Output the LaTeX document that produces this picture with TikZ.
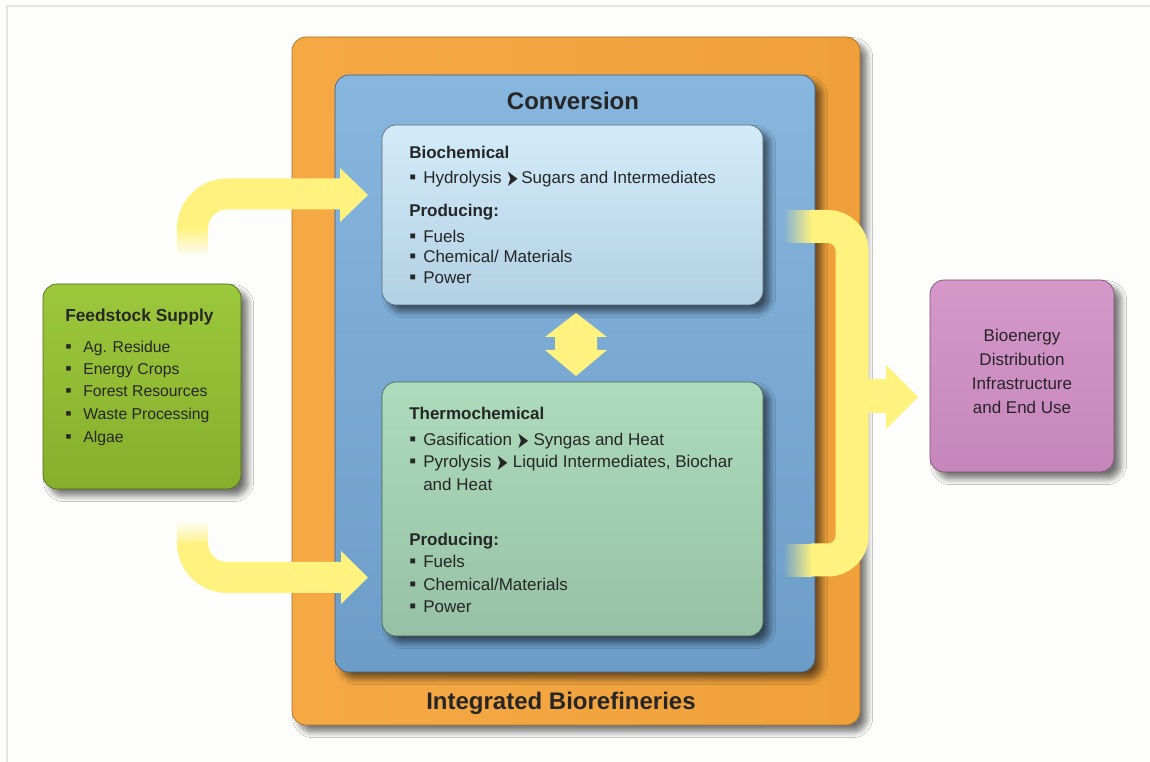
\documentclass[tikz,border=0pt]{standalone}
\usepackage{fontspec}
\setmainfont{Liberation Sans}
\newfontfamily\symfont{DejaVu Sans}
\usetikzlibrary{shadows.blur,fadings}

\definecolor{pagebg}{HTML}{FDFDFB}
\definecolor{framegray}{HTML}{E4E4E2}
\definecolor{orangeA}{HTML}{F5A944}
\definecolor{orangeB}{HTML}{EFA03B}
\definecolor{blueA}{HTML}{87B6DF}
\definecolor{blueB}{HTML}{6C9DC8}
\definecolor{bioA}{HTML}{D3EBF8}
\definecolor{bioB}{HTML}{B2D1E4}
\definecolor{thermoA}{HTML}{AEDBBC}
\definecolor{thermoB}{HTML}{96C1A5}
\definecolor{feedA}{HTML}{9CC83C}
\definecolor{feedB}{HTML}{86AF2B}
\definecolor{pinkA}{HTML}{D598C9}
\definecolor{pinkB}{HTML}{C686BB}
\definecolor{flow}{HTML}{FFF27E}
\definecolor{ink}{HTML}{262626}

% bullet with fixed indent, and the small pointer between process and product
\newcommand\bul[1]{\makebox[#1][l]{\raisebox{0.05ex}{\scalebox{1.15}{▪}}}}
\newcommand\pointer{{\symfont\raisebox{-0.25ex}{\scalebox{0.85}[1.35]{➤}}}}

\tikzset{
  panel/.style={rounded corners=10.5pt, inner sep=0pt, outer sep=0pt, line width=0.5pt},
  dropshadow/.style={blur shadow={shadow xshift=5pt, shadow yshift=-5pt,
      shadow blur radius=4.5pt, shadow blur steps=12, shadow opacity=55}},
  txt/.style={anchor=base west, inner sep=0pt, text=ink, font=\fontsize{12.75}{15}\selectfont},
  hd/.style={txt, font=\fontsize{12.75}{15}\selectfont\bfseries},
  small/.style={txt, font=\fontsize{11.8}{14}\selectfont},
  title/.style={anchor=base, inner sep=0pt, text=ink, font=\fontsize{18}{21}\selectfont\bfseries},
  flowband/.style={draw=flow, line width=23.25pt},
}

\begin{document}
\begin{tikzpicture}[x=0.75pt, y=-0.75pt]
% canvas and frame
\fill[pagebg] (0,0) rectangle (1150,762);
\useasboundingbox (0,0) rectangle (1150,762);
\draw[framegray, line width=1.5pt] (7,763) -- (7,6) -- (1151,6);

% integrated biorefinery and conversion containers
\node[panel, dropshadow, draw=orangeB!70!black, left color=orangeA, right color=orangeB,
      minimum width=426pt, minimum height=516pt] (refinery) at (576,381) {};
\node[panel, dropshadow, draw=blueB!60!black, top color=blueA, bottom color=blueB,
      minimum width=360pt, minimum height=447.75pt] (conversion) at (575,373.5) {};

% conversion routes
\node[panel, dropshadow, draw=bioB!50!black, top color=bioA, bottom color=bioB,
      minimum width=285.75pt, minimum height=135pt] (bio) at (572.5,215) {};
\node[panel, dropshadow, draw=thermoB!50!black, top color=thermoA, bottom color=thermoB,
      minimum width=285.75pt, minimum height=190.5pt] (thermo) at (572.5,509) {};

% supply and end use
\node[panel, dropshadow, draw=feedB!60!black, top color=feedA, bottom color=feedB,
      minimum width=148.5pt, minimum height=153.75pt] (feed) at (142,386.5) {};
\node[panel, dropshadow, draw=pinkB!60!black, top color=pinkA, bottom color=pinkB,
      minimum width=138pt, minimum height=144pt] (enduse) at (1022,376) {};

% feedstock flows into the two routes
\coordinate (inA) at (192.5,228);
\coordinate (inAend) at (341,194);
\draw[flowband, rounded corners=26pt] (inA) |- (inAend);
\fill[flow, path fading=south] (177,227) rectangle (208,256);
\fill[flow] (340,168) -- (368,195) -- (340,222) -- cycle;

\coordinate (inB) at (192.5,546);
\coordinate (inBend) at (342,577.5);
\draw[flowband, rounded corners=26pt] (inB) |- (inBend);
\fill[flow, path fading=north] (177,520) rectangle (208,547);
\fill[flow] (341,551) -- (368,577.5) -- (341,604) -- cycle;

% exchange between the two routes
\fill[flow] (576,313) -- (607,337) -- (597,337) -- (597,350) -- (607,350)
   -- (576,376) -- (545,350) -- (555,350) -- (555,337) -- (545,337) -- cycle;

% products gathered and sent to end use
\coordinate (outA) at (811,226.5);
\coordinate (outB) at (811,560);
\draw[flowband, line width=24.75pt, rounded corners=18pt]
   (outA) -- (852,226.5) -- (852,560) -- (outB);
\fill[flow, path fading=west] (783,210) rectangle (812,243);
\fill[flow, path fading=west] (783,543.5) rectangle (812,576.5);
\fill[flow] (850,379) rectangle (887,413);
\fill[flow] (886,365) -- (918,397) -- (886,429) -- cycle;

% titles
\node[title] (convtitle) at (573,110) {Conversion};
\node[title] (reftitle) at (561,709) {Integrated Biorefineries};

% biochemical route
\node[hd]  (b1) at (409,159) {Biochemical};
\node[txt] (b2) at (409,184) {\bul{10.5pt}Hydrolysis \pointer\,Sugars and Intermediates};
\node[hd]  (b3) at (409,217) {Producing:};
\node[txt] (b4) at (409,243) {\bul{10.5pt}Fuels};
\node[txt] (b5) at (409,263) {\bul{10.5pt}Chemical/ Materials};
\node[txt] (b6) at (409,284) {\bul{10.5pt}Power};

% thermochemical route
\node[hd]  (c1) at (409,420) {Thermochemical};
\node[txt] (c2) at (409,446) {\bul{10.5pt}Gasification \pointer{} Syngas and Heat};
\node[txt] (c3) at (409,468) {\bul{10.5pt}Pyrolysis \pointer{} Liquid Intermediates, Biochar};
\node[txt] (c4) at (423,491) {and Heat};
\node[hd]  (c5) at (409,546) {Producing:};
\node[txt] (c6) at (409,568) {\bul{10.5pt}Fuels};
\node[txt] (c7) at (409,591) {\bul{10.5pt}Chemical/Materials};
\node[txt] (c8) at (409,613) {\bul{10.5pt}Power};

% feedstock list
\node[hd, font=\fontsize{13}{15}\selectfont\bfseries] (f0) at (65,322) {Feedstock Supply};
\node[small] (f1) at (65,353) {\bul{13.5pt}Ag. Residue};
\node[small] (f2) at (65,375) {\bul{13.5pt}Energy Crops};
\node[small] (f3) at (65,397) {\bul{13.5pt}Forest Resources};
\node[small] (f4) at (65,420) {\bul{13.5pt}Waste Processing};
\node[small] (f5) at (65,443) {\bul{13.5pt}Algae};

% end use
\node[txt, anchor=base] (e1) at (1022,342) {Bioenergy};
\node[txt, anchor=base] (e2) at (1022,366) {Distribution};
\node[txt, anchor=base] (e3) at (1022,390) {Infrastructure};
\node[txt, anchor=base] (e4) at (1022,414) {and End Use};
\end{tikzpicture}
\end{document}
